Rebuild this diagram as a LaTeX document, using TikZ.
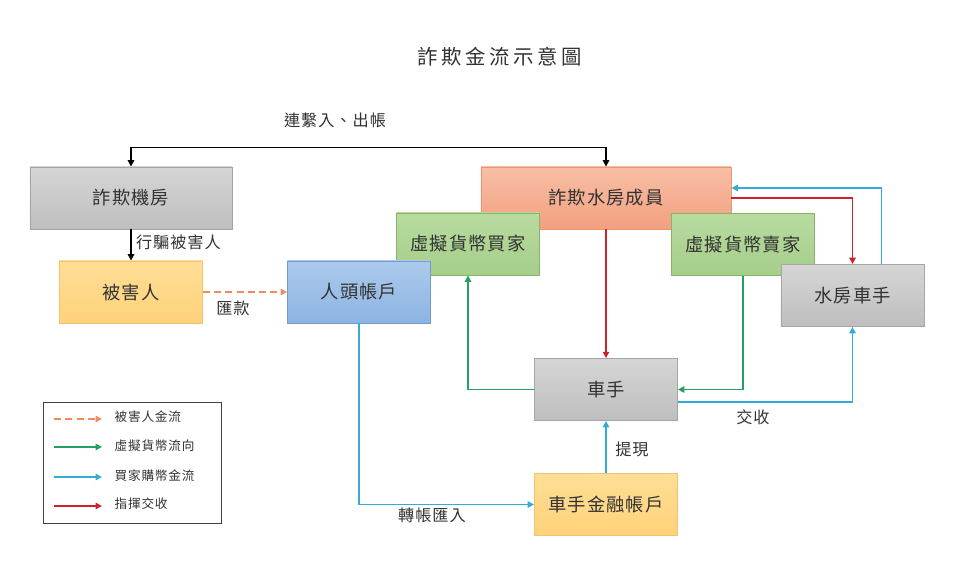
\documentclass[tikz,border=0pt]{standalone}
\usepackage{fontspec}
\setmainfont{Noto Sans CJK TC}[LetterSpace=6]
\newfontfamily\titlefont{Noto Sans CJK TC}[LetterSpace=18]
\usetikzlibrary{arrows.meta, calc}
\definecolor{grayTop}{RGB}{214, 214, 214}
\definecolor{grayBot}{RGB}{190, 190, 190}
\definecolor{grayLine}{RGB}{165, 165, 165}
\definecolor{salmonTop}{RGB}{248, 190, 165}
\definecolor{salmonBot}{RGB}{242, 160, 128}
\definecolor{salmonLine}{RGB}{235, 150, 115}
\definecolor{greenTop}{RGB}{184, 219, 160}
\definecolor{greenBot}{RGB}{165, 206, 137}
\definecolor{greenLine}{RGB}{135, 180, 105}
\definecolor{blueTop}{RGB}{172, 202, 236}
\definecolor{blueBot}{RGB}{140, 180, 226}
\definecolor{blueLine}{RGB}{115, 155, 205}
\definecolor{yellowTop}{RGB}{255, 222, 150}
\definecolor{yellowBot}{RGB}{255, 210, 122}
\definecolor{yellowLine}{RGB}{242, 195, 110}
\definecolor{flowOrange}{RGB}{238, 140, 95}
\definecolor{flowGreen}{RGB}{38, 160, 96}
\definecolor{flowCyan}{RGB}{52, 172, 214}
\definecolor{flowRed}{RGB}{208, 32, 42}
\definecolor{txtDark}{RGB}{50, 50, 50}

\begin{document}
\begin{tikzpicture}[x=0.025cm, y=-0.025cm,
    box/.style={draw, line width=0.6pt, inner sep=0pt, minimum width=3.575cm, minimum height=1.55cm,
      text=txtDark, font=\fontsize{13}{15}\selectfont},
    grayBox/.style={box, draw=grayLine, top color=grayTop, bottom color=grayBot},
    salmonBox/.style={box, draw=salmonLine, top color=salmonTop, bottom color=salmonBot},
    greenBox/.style={box, draw=greenLine, top color=greenTop, bottom color=greenBot},
    blueBox/.style={box, draw=blueLine, top color=blueTop, bottom color=blueBot},
    yellowBox/.style={box, draw=yellowLine, top color=yellowTop, bottom color=yellowBot},
    lbl/.style={text=txtDark, inner sep=1pt, font=\fontsize{11.5}{13}\selectfont},
    flow/.style={line width=1.2pt, -{Triangle[length=4.5pt, width=4.5pt]}},
    dashflow/.style={flow, dash pattern=on 5pt off 3pt}]
  \useasboundingbox (0,0) rectangle (959,567);

  % title and labels
  \node[text=txtDark, font=\titlefont\fontsize{14.5}{16}\selectfont] (title) at (500,57) {詐欺金流示意圖};

  % boxes (drawing order matters for the overlaps)
  \node[grayBox, minimum width=5.05cm] (jifang) at (131,198) {詐欺機房};
  \node[yellowBox] (victim) at (131,292) {被害人};
  \node[salmonBox, minimum width=6.25cm] (shuifang) at (606,198) {詐欺水房成員};
  \node[greenBox] (buyer) at (468,244) {虛擬貨幣買家};
  \node[greenBox] (seller) at (743,244.5) {虛擬貨幣賣家};
  \node[blueBox] (renhu) at (359,292) {人頭帳戶};
  \node[grayBox] (shuiche) at (852.5,295.5) {水房車手};
  \node[grayBox] (cheshou) at (606,389.5) {車手};
  \node[yellowBox] (bank) at (606,504.5) {車手金融帳戶};

  % connectors
  \draw[line width=1.2pt, {Triangle[length=4.5pt, width=4.5pt]}-{Triangle[length=4.5pt, width=4.5pt]}]
    (jifang.north) |- ($(shuifang.north)+(0,-19)$) coordinate (topBend) -- (shuifang.north);
  \node[lbl] (lianxi) at (335,120) {連繫入、出帳};
  \draw[flow] (jifang.south) -- node[lbl, right=2pt, pos=0.42] (xingpian) {行騙被害人} (victim.north);
  \draw[dashflow, flowOrange] (victim.east) -- (renhu.west);
  \node[lbl] (huikuan) at (233,308) {匯款};
  \draw[flow, flowRed] (shuifang.south) -- (cheshou.north);
  \draw[flow, flowRed] (shuifang.east) -| (shuiche.north);
  \draw[flow, flowCyan] ($(shuiche.north)+(29,0)$) |- ($(shuifang.east)+(0,-10)$);
  \draw[flow, flowGreen] (cheshou.west) -| (buyer.south);
  \draw[flow, flowGreen] (seller.south) |- (cheshou.east);
  \draw[flow, flowCyan] ($(cheshou.east)+(0,12.5)$) -| (shuiche.south);
  \node[lbl] (jiaoshou) at (753,417) {交收};
  \draw[flow, flowCyan] (bank.north) -- node[lbl, right=5pt, pos=0.45] (tixian) {提現} (cheshou.south);
  \draw[flow, flowCyan] (renhu.south) |- (bank.west);
  \node[lbl] (zhuanzhang) at (432,515) {轉帳匯入};

  % legend
  \node[draw=black!75, line width=0.6pt, minimum width=4.45cm, minimum height=3.025cm, inner sep=0pt] (legend) at (132,462.5) {};
  \coordinate (leg1) at (54,419);
  \coordinate (leg2) at (54,447);
  \coordinate (leg3) at (54,477);
  \coordinate (leg4) at (54,506);
  \draw[dashflow, flowOrange] (leg1) -- ++(48,0);
  \draw[flow, flowGreen] (leg2) -- ++(48,0);
  \draw[flow, flowCyan] (leg3) -- ++(48,0);
  \draw[flow, flowRed] (leg4) -- ++(48,0);
  \node[lbl, anchor=west, font=\fontsize{9}{11}\selectfont] (legTxt1) at (113,417) {被害人金流};
  \node[lbl, anchor=west, font=\fontsize{9}{11}\selectfont] (legTxt2) at (113,446) {虛擬貨幣流向};
  \node[lbl, anchor=west, font=\fontsize{9}{11}\selectfont] (legTxt3) at (113,476) {買家購幣金流};
  \node[lbl, anchor=west, font=\fontsize{9}{11}\selectfont] (legTxt4) at (113,504) {指揮交收};
\end{tikzpicture}
\end{document}
